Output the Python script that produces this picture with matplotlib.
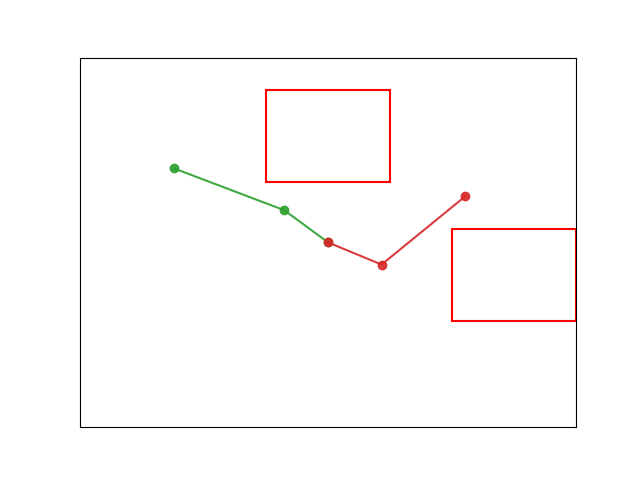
import matplotlib
matplotlib.use("Agg")
import matplotlib.pyplot as plt
from matplotlib.patches import Rectangle

green_x = [0.19, 0.412, 0.5]
green_y = [0.70, 0.587, 0.50]
red_x = [0.5, 0.608, 0.777]
red_y = [0.50, 0.44, 0.625]
rects = [(0.375, 0.663, 0.25, 0.25), (0.75, 0.287, 0.25, 0.25)]

fig, ax = plt.subplots(figsize=(6.4, 4.8), dpi=100)
ax.plot(green_x, green_y, '-o', color='#2ca02c', alpha=0.9)
ax.plot(red_x, red_y, '-o', color='#d62728', alpha=0.9)
for (x, y, w, h) in rects:
    ax.add_patch(Rectangle((x, y), w, h, fill=False, edgecolor='red', linewidth=1.5))
ax.set_xlim(0, 1)
ax.set_ylim(0, 1)
ax.set_xticks([])
ax.set_yticks([])
fig.savefig("out.png")
